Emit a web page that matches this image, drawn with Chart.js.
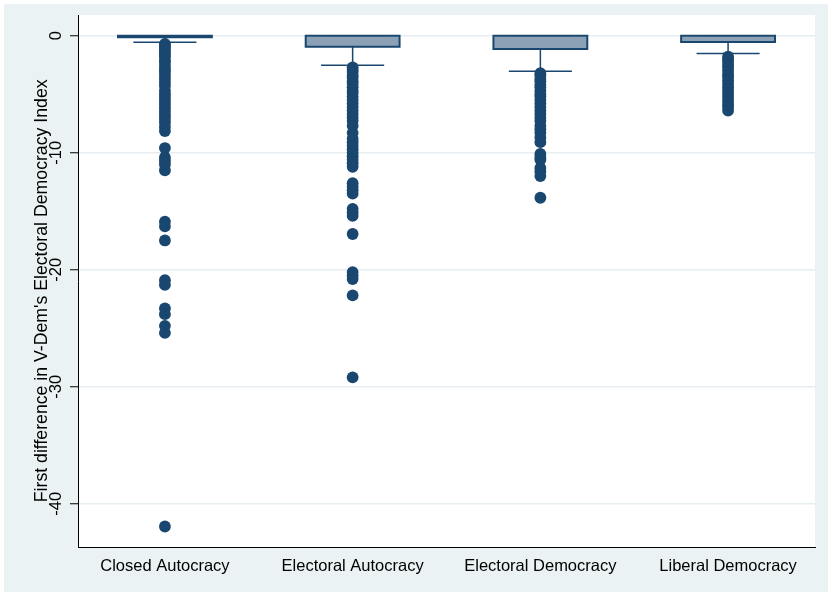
<!DOCTYPE html>
<html>
<head>
<meta charset="utf-8">
<script src="https://cdn.jsdelivr.net/npm/chart.js@4"></script>
<style>
  html, body { margin: 0; padding: 0; background: #fff; }
  #wrap { width: 832px; height: 596px; }
</style>
</head>
<body>
<div id="wrap"><canvas id="boxChart" width="832" height="596"></canvas></div>
<script>
// box plot: first difference in V-Dem electoral democracy index by regime type

const categories = ["Closed Autocracy", "Electoral Autocracy", "Electoral Democracy", "Liberal Democracy"];
const boxUpper = [0, 0, 0, 0];
const boxLower = [-0.14, -0.94, -1.14, -0.54];
const whiskerHigh = [0, 0, 0, 0];
const whiskerLow = [-0.56, -2.53, -3.04, -1.53];

const outClosedAut = [-0.7, -0.85, -1.0, -1.2, -1.4, -1.6, -1.8, -2.1, -2.3, -2.6, -2.9, -3.1, -3.4, -3.7,
  -4.0, -4.3, -4.7, -5.0, -5.3, -5.6, -5.9, -6.2, -6.5, -6.8, -7.1, -7.4, -7.8, -8.15,
  -9.6, -10.4, -10.7, -11.0, -11.5, -15.9, -16.3, -17.5, -20.9, -21.3, -23.3, -23.8, -24.8, -25.4, -41.95];
const outElectAut = [-2.7, -2.9, -3.1, -3.4, -3.6, -3.9, -4.1, -4.4, -4.7, -4.9, -5.2, -5.5, -5.8, -6.1,
  -6.4, -6.7, -7.0, -7.3, -7.7, -8.3, -8.8, -9.1, -9.4, -9.7, -10.0, -10.3, -10.6, -10.9, -11.2,
  -12.6, -12.9, -13.2, -13.5, -14.8, -15.1, -15.4, -16.95, -20.2, -20.5, -20.8, -22.2, -29.2];
const outElectDem = [-3.2, -3.4, -3.7, -3.9, -4.2, -4.4, -4.7, -5.0, -5.2, -5.5, -5.8, -6.1, -6.4, -6.7,
  -7.0, -7.3, -7.7, -8.0, -8.3, -8.7, -9.1, -10.1, -10.4, -10.6, -11.3, -11.6, -12.0, -13.85];
const outLibDem = [-1.8, -2.0, -2.2, -2.5, -2.7, -3.0, -3.3, -3.5, -3.8, -4.1, -4.4, -4.7, -5.0, -5.3,
  -5.6, -5.9, -6.1, -6.4];
const outliers = [outClosedAut, outElectAut, outElectDem, outLibDem];

const yTicks = [0, -10, -20, -30, -40];

const navy = "#1a476f";
const boxFill = "#8ca1b6";
const capHalf = 0.168; // half cap width, category units
const boxHalf = 0.25;  // half box width, category units

// whisker segments, broken with null points
const whiskerPts = [];
categories.forEach((c, i) => {
  const x = i + 1;
  whiskerPts.push({x: x, y: boxLower[i]}, {x: x, y: whiskerLow[i]}, {x: x, y: null});
  whiskerPts.push({x: x - capHalf, y: whiskerLow[i]}, {x: x + capHalf, y: whiskerLow[i]}, {x: x, y: null});
  whiskerPts.push({x: x, y: boxUpper[i]}, {x: x, y: whiskerHigh[i]}, {x: x, y: null});
  whiskerPts.push({x: x - capHalf, y: whiskerHigh[i]}, {x: x + capHalf, y: whiskerHigh[i]}, {x: x, y: null});
});

// box outlines (stroke centred on the box edge like stata)
const outlinePts = [];
categories.forEach((c, i) => {
  const x = i + 1;
  outlinePts.push(
    {x: x - boxHalf, y: boxLower[i]}, {x: x + boxHalf, y: boxLower[i]},
    {x: x + boxHalf, y: boxUpper[i]}, {x: x - boxHalf, y: boxUpper[i]},
    {x: x - boxHalf, y: boxLower[i]}, {x: x, y: null});
});

const outlierPts = [];
outliers.forEach((arr, i) => arr.forEach(v => outlierPts.push({x: i + 1, y: v})));

const boxPts = categories.map((c, i) => ({x: i + 1, y: [boxLower[i], boxUpper[i]]}));

// stata style backgrounds
const bgPlugin = {
  id: "bg",
  beforeDraw(chart) {
    const {ctx, chartArea} = chart;
    ctx.save();
    ctx.fillStyle = "#ffffff";
    ctx.fillRect(0, 0, chart.width, chart.height);
    ctx.fillStyle = "#eaf2f3";
    ctx.fillRect(4, 4, chart.width - 8, chart.height - 8);
    ctx.fillStyle = "#ffffff";
    ctx.fillRect(chartArea.left, chartArea.top, chartArea.right - chartArea.left, chartArea.bottom - chartArea.top);
    ctx.restore();
  }
};

const font = {family: "'Liberation Sans', Arial, sans-serif", size: 16.5};

const config = {
  type: "scatter",
  data: {
    datasets: [
      {
        type: "scatter",
        data: outlierPts,
        pointRadius: 5.9,
        pointBackgroundColor: navy,
        pointBorderColor: navy,
        pointBorderWidth: 0,
        order: 0,
      },
      {
        type: "scatter",
        data: outlinePts,
        showLine: true,
        spanGaps: false,
        pointRadius: 0,
        borderColor: navy,
        borderWidth: 2,
        borderJoinStyle: "miter",
        borderCapStyle: "square",
        order: 1,
      },
      {
        type: "bar",
        data: boxPts,
        backgroundColor: boxFill,
        borderWidth: 0,
        barThickness: 94,
        order: 2,
      },
      {
        type: "scatter",
        data: whiskerPts,
        showLine: true,
        spanGaps: false,
        pointRadius: 0,
        borderColor: navy,
        borderWidth: 1.5,
        order: 3,
      },
    ],
  },
  options: {
    responsive: false,
    animation: false,
    events: [],
    layout: {padding: {left: 5, top: 15, right: 17, bottom: 0}},
    plugins: {legend: {display: false}, tooltip: {enabled: false}},
    scales: {
      x: {
        type: "linear",
        min: 0.537,
        max: 4.463,
        offset: false,
        grid: {display: false, drawTicks: false, offset: false},
        border: {display: true, color: "#000", width: 1},
        afterBuildTicks: s => { s.ticks = categories.map((c, i) => ({value: i + 1})); },
        afterFit: s => { s.height = 49; s.paddingLeft = 0; s.paddingRight = 0; },
        ticks: {
          padding: 10,
          color: "#000",
          font: font,
          maxRotation: 0,
          autoSkip: false,
          callback: v => categories[v - 1],
        },
      },
      y: {
        min: -43.7,
        max: 1.77,
        grid: {color: "#e6eef1", lineWidth: 1.5, tickColor: "#000", tickLength: 8, tickWidth: 1},
        border: {display: true, color: "#000", width: 1},
        afterBuildTicks: s => { s.ticks = yTicks.map(v => ({value: v})); },
        afterFit: s => { s.width = 73; s.paddingTop = 0; s.paddingBottom = 0; },
        ticks: {
          padding: 2,
          color: "#000",
          font: font,
          minRotation: 90,
          maxRotation: 90,
          crossAlign: "center",
        },
        title: {
          display: true,
          text: "First difference in V-Dem's Electoral Democracy Index    ",
          color: "#000",
          font: {family: font.family, size: 17.7},
          padding: {top: 26, bottom: 0},
        },
      },
    },
  },
  plugins: [bgPlugin],
};

const boxChart = new Chart(document.getElementById("boxChart"), config);
</script>
</body>
</html>
